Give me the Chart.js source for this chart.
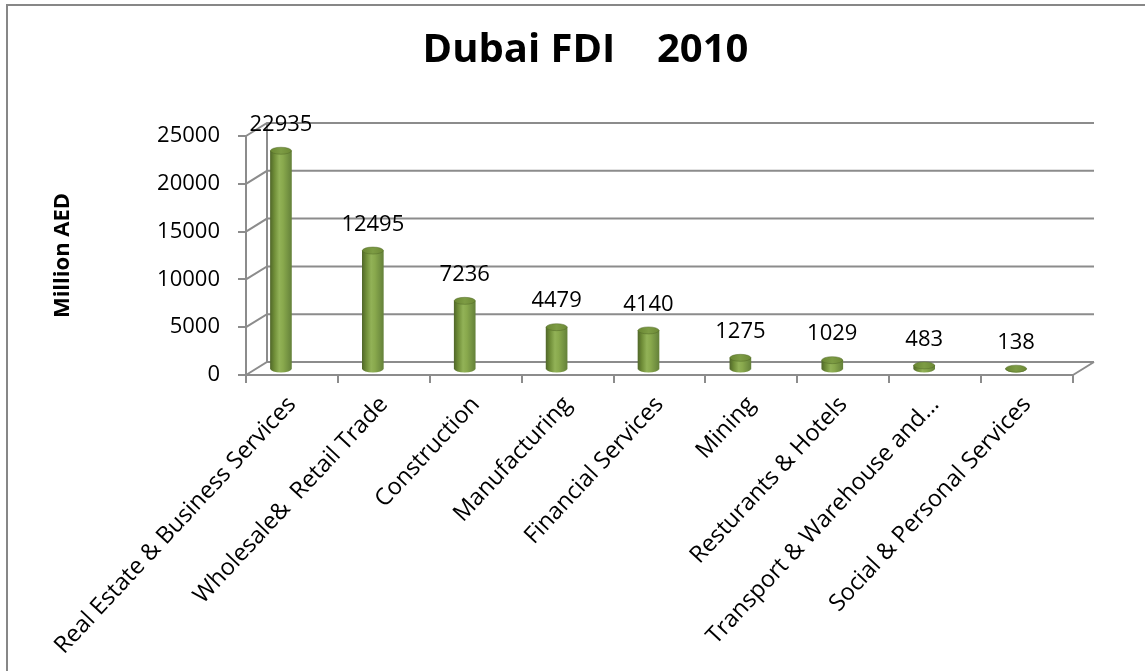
<!DOCTYPE html>
<html>
<head>
<meta charset="utf-8">
<script src="https://cdn.jsdelivr.net/npm/chart.js@4.4.0/dist/chart.umd.min.js"></script>
<style>
html,body{margin:0;padding:0;background:#fff;overflow:hidden}
#wrap{position:relative;width:1145px;height:671px}
canvas{display:block}
</style>
</head>
<body>
<div id="wrap"><canvas id="c" width="1145" height="671"></canvas></div>
<script>
const categories = ["Real Estate & Business Services","Wholesale&  Retail Trade","Construction","Manufacturing","Financial Services","Mining","Resturants & Hotels","Transport & Warehouse and...","Social & Personal Services"];
const fdiValues = [22935,12495,7236,4479,4140,1275,1029,483,138];
const yTicks = [0,5000,10000,15000,20000,25000];
const chartTitle = "Dubai FDI    2010";
const yAxisTitle = "Million AED";

const FAMILY = "'Open Sans', 'Noto Sans', sans-serif";
const GRID = '#8c8c8c';
const DEPTH_X = 21, DEPTH_Y = -13;   // back wall offset
const BAR_DX = -11, BAR_DY = -5;     // bar plane offset

function bodyGradient(ctx, cx, half) {
  const g = ctx.createLinearGradient(cx - half, 0, cx + half, 0);
  g.addColorStop(0, '#52692a');
  g.addColorStop(0.18, '#6e8c37');
  g.addColorStop(0.42, '#92b257');
  g.addColorStop(0.6, '#89a94d');
  g.addColorStop(1, '#65823a');
  return g;
}

const threeD = {
  id: 'threeD',
  beforeDraw(chart) {
    const ctx = chart.ctx;
    ctx.save();
    ctx.fillStyle = '#fff';
    ctx.fillRect(0, 0, chart.width, chart.height);
    ctx.fillStyle = '#878787';
    ctx.fillRect(6, 4, chart.width, 2);
    ctx.fillRect(6, 4, 2, chart.height);
    ctx.restore();
  },
  beforeDatasetsDraw(chart) {
    const ctx = chart.ctx, ys = chart.scales.y, ca = chart.chartArea;
    ctx.save();
    ctx.strokeStyle = GRID;
    ctx.lineWidth = 2;
    ctx.beginPath();
    yTicks.forEach(v => {
      const y = ys.getPixelForValue(v);
      ctx.moveTo(ca.left, y);
      ctx.lineTo(ca.left + DEPTH_X, y + DEPTH_Y);
      ctx.lineTo(ca.right + DEPTH_X, y + DEPTH_Y);
    });
    const y0 = ys.getPixelForValue(0), yTop = ys.getPixelForValue(yTicks[yTicks.length - 1]);
    ctx.moveTo(ca.left + DEPTH_X, y0 + DEPTH_Y);
    ctx.lineTo(ca.left + DEPTH_X, yTop + DEPTH_Y);
    ctx.moveTo(ca.right, y0);
    ctx.lineTo(ca.right + DEPTH_X, y0 + DEPTH_Y);
    ctx.stroke();
    ctx.restore();
    ctx.save();
    ctx.translate(BAR_DX, BAR_DY);
  },
  afterDatasetsDraw(chart) {
    const ctx = chart.ctx;
    const meta = chart.getDatasetMeta(0);
    const ry = 3.5;
    meta.data.forEach((el, i) => {
      const half = el.width / 2;
      ctx.beginPath();
      ctx.ellipse(el.x, el.base, half, ry, 0, 0, Math.PI);
      ctx.closePath();
      ctx.fillStyle = bodyGradient(ctx, el.x, half);
      ctx.fill();
      ctx.beginPath();
      ctx.ellipse(el.x, el.y, half, ry, 0, 0, Math.PI * 2);
      const g = ctx.createLinearGradient(el.x - half, 0, el.x + half, 0);
      g.addColorStop(0, '#6a8733');
      g.addColorStop(0.5, '#7d9c44');
      g.addColorStop(1, '#6d8a36');
      ctx.fillStyle = g;
      ctx.fill();
      ctx.strokeStyle = 'rgba(80,104,38,0.6)';
      ctx.lineWidth = 0.8;
      ctx.stroke();
      ctx.fillStyle = '#000';
      ctx.font = "22px " + FAMILY;
      ctx.textAlign = 'center';
      ctx.textBaseline = 'middle';
      ctx.fillText(String(fdiValues[i]), el.x, el.y - 26);
    });
    ctx.restore();
  }
};

const tickFont = { family: FAMILY, size: 22 };

new Chart(document.getElementById('c'), {
  type: 'bar',
  data: {
    labels: categories,
    datasets: [{
      data: fdiValues,
      barThickness: 21,
      borderWidth: 0,
      backgroundColor: (c) => {
        const chart = c.chart, xs = chart.scales && chart.scales.x;
        if (!xs || c.dataIndex === undefined || !chart.chartArea) return '#7f9f45';
        const cx = xs.getPixelForValue(c.dataIndex);
        return bodyGradient(chart.ctx, cx, 10.5);
      }
    }]
  },
  options: {
    responsive: false,
    animation: false,
    devicePixelRatio: 1,
    layout: { padding: { left: 98, right: 72, top: 0, bottom: 0 } },
    plugins: {
      legend: { display: false },
      tooltip: { enabled: false },
      title: {
        display: true,
        text: chartTitle,
        color: '#000',
        font: { family: FAMILY, size: 40, weight: 'bold' },
        padding: { top: 27, bottom: 61 }
      }
    },
    scales: {
      x: {
        ticks: { font: { family: FAMILY, size: 23.5 }, color: '#000', maxRotation: 47, minRotation: 47, autoSkip: false, padding: 8 },
        grid: { drawOnChartArea: false, drawTicks: true, tickLength: 8, color: GRID, lineWidth: 2, offset: true },
        border: { display: true, color: GRID, width: 2 },
        afterFit: (s) => { s.height = 296; s.paddingLeft = 0; s.paddingRight = 0; }
      },
      y: {
        min: 0,
        max: 25000,
        afterBuildTicks: (s) => { s.ticks = yTicks.map(v => ({ value: v })); },
        ticks: { font: tickFont, color: '#000', padding: 18, callback: (v) => String(v) },
        grid: { drawOnChartArea: false, drawTicks: true, tickLength: 8, color: GRID, lineWidth: 2 },
        border: { display: true, color: GRID, width: 2 },
        title: {
          display: true,
          text: yAxisTitle,
          color: '#000',
          font: { family: FAMILY, size: 22, weight: 'bold' },
          padding: { top: -48, bottom: 0 }
        },
        afterFit: (s) => { s.width = 148; }
      }
    }
  },
  plugins: [threeD]
});
</script>
</body>
</html>
